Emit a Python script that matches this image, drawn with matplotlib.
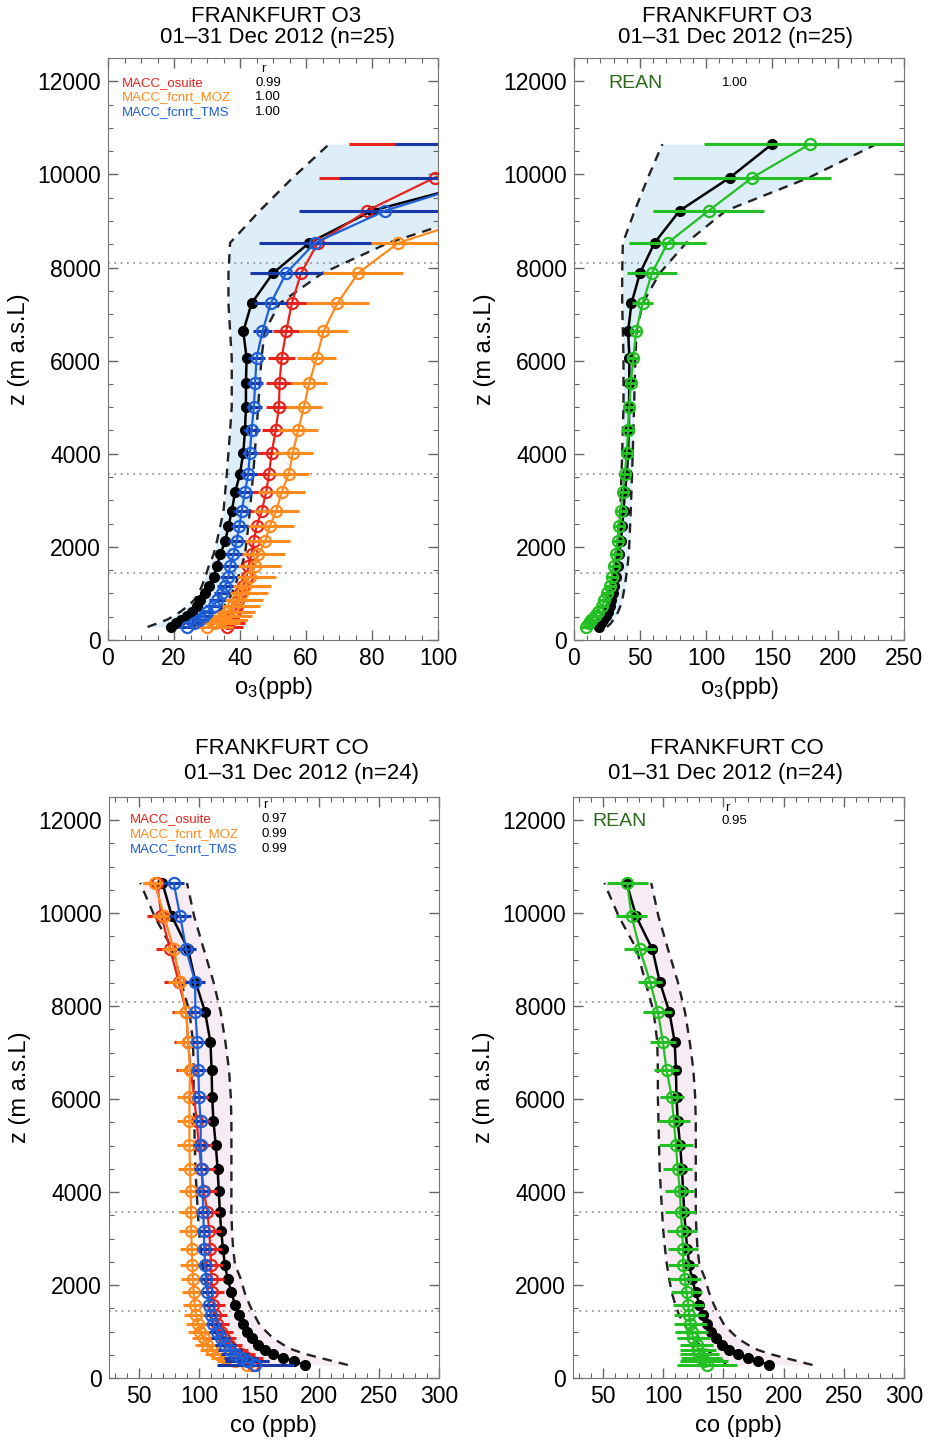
import numpy as np
import matplotlib.pyplot as plt
from matplotlib.ticker import MultipleLocator

plt.rcParams['font.family'] = ['Liberation Sans', 'DejaVu Sans']
plt.rcParams['mathtext.default'] = 'regular'

W, H = 934, 1441

# altitude levels of the profiles (m a.s.l.)
z_levels = [280, 360, 440, 520, 610, 720, 850, 1000, 1170, 1360, 1580, 1840, 2120, 2440, 2770,
            3170, 3570, 4020, 4500, 5010, 5530, 6050, 6630, 7230, 7880, 8530, 9220, 9930, 10650]
layer_bounds = [1440, 3570, 8100]

# ---- O3 (ppb) ----
o3_obs = [19, 20.5, 22, 24, 25.5, 27, 28, 29.5, 30.5, 32, 33, 34, 35.5, 36.5, 37.5,
          38.5, 40, 41, 41.5, 41.8, 41.8, 42, 41, 43.5, 50, 61, 80, 118, 150]
o3_obs_lo = [12, 15, 18, 20, 22, 24, 26, 27.5, 28.5, 29.5, 30.5, 32, 33, 34, 35,
             35.5, 36, 36.5, 37, 37.5, 37.5, 37.5, 37, 36.5, 36.5, 37, 46, 56, 67]
o3_obs_hi = [25, 28, 30, 32, 33.5, 35, 36.5, 37.5, 38.5, 39.5, 40.5, 41.5, 42, 42.5, 43,
             43.5, 44, 44.5, 45, 45.5, 46, 46.5, 47.5, 52, 65, 85, 115, 178, 229]
o3_osuite = [36, 36.5, 37, 38, 38.5, 39, 39.5, 40, 41, 42, 42.5, 43.5, 44.2, 45, 46.6,
             47.9, 48.8, 49.6, 50.8, 51.8, 52, 52.6, 54, 55.7, 58.5, 63.6, 78.5, 99, 125]
o3_osuite_err = [5, 5, 5, 5, 5, 5, 5, 5, 5, 5, 5, 5, 4.5, 4.5, 4.5,
                 4, 4, 4, 4, 4, 4, 4, 4, 5, 7, 10, 20, 35, 52]
o3_moz = [30, 32, 34, 35.5, 36.5, 38, 39, 40.5, 41.5, 43, 44.5, 45.5, 47.6, 49, 51,
          52.6, 54.8, 56, 57.6, 59.4, 61, 63.2, 65.3, 69.5, 75.8, 88, 118, 150, 180]
o3_moz_err = [8, 8, 8, 8, 8, 8, 8, 8, 8, 8, 8, 8, 7.5, 7.5, 7,
              7, 6, 6, 6, 5.5, 5.5, 6, 7.5, 9.5, 13.5, 16, 24, 32, 40]
o3_tms = [24, 26, 27.5, 29, 30, 32, 33, 34.5, 35.5, 36.5, 37, 38, 39, 39.8, 40.5,
          41.5, 42.5, 43, 43.5, 44.2, 44.6, 45, 46.8, 49.3, 54, 62.7, 84, 116, 140]
o3_tms_err = [2.5] * 22 + [3, 5, 11, 17, 26, 46, 53]
o3_rean = [9, 11, 13, 16, 18, 21, 23, 25, 27, 28.5, 30, 31.5, 33, 34, 35.5,
           37, 38.5, 40, 41, 42, 43, 45, 47, 52, 59, 71, 102, 135, 178.6]
o3_rean_err = [4] * 22 + [4.5, 8, 19, 29, 42, 60, 80]

# ---- CO (ppb) ----
co_obs = [188, 179, 170, 162, 155, 149, 144, 140, 136.5, 133, 130, 127, 124, 121.5, 120,
          118.5, 117.4, 116.5, 115.5, 114, 112, 111, 110.5, 109.5, 105, 97, 91, 77.5, 69.5]
co_obs_lo = [152, 150, 146, 140, 136, 130, 125, 121, 117, 113, 110, 107, 105, 103, 101.5,
             100, 99, 98, 97, 96.5, 96, 95.5, 95.5, 95, 92, 85, 78, 63, 51]
co_obs_hi = [224, 212, 200, 188, 178, 170, 162, 156, 150, 146, 142, 138, 135, 130, 128.5,
             127.5, 127, 127, 127, 127, 127, 126.5, 125, 122, 118, 112, 104, 96, 90]
co_osuite = [145, 143, 140, 135, 130, 125, 121, 118, 115, 113, 112, 111, 110.5, 110, 109.5,
             108.5, 107, 104, 102, 100, 98, 96, 93, 91, 89.3, 83, 76, 68.7, 65]
co_osuite_err = [20, 15, 13, 12, 11, 11] + [10] * 11 + [11] * 4 + [12] * 8
co_moz = [140, 130, 122, 116, 111, 107, 104, 101, 99, 97.5, 96.5, 95.5, 95, 94.5, 94,
          93.5, 93.5, 93, 92.5, 92, 92, 92, 92.6, 91, 89.3, 84.4, 79, 71, 63]
co_moz_err = [20, 15, 12, 11] + [10] * 25
co_tms = [147, 140, 135, 130, 126, 122, 118, 115, 112, 110, 108.5, 107, 106, 105, 104.5,
          104, 103.6, 103, 102.2, 101.4, 101.4, 100, 99.5, 98.6, 97, 96.7, 89.3, 84.4, 78.9]
co_tms_err = [32, 18, 14, 12, 10, 9, 8, 7] + [6] * 16 + [7, 8, 8, 9, 9]
co_rean = [136, 134, 132, 130, 129, 127.7, 125, 123.5, 122.5, 121.5, 120.7, 119.4, 118, 116.5, 116.5,
           115.6, 114.6, 113.8, 112, 110.5, 108.8, 107, 102.7, 99.7, 95.5, 89, 80.6, 73.7, 70]
co_rean_err = [25, 20, 17, 16, 15, 14, 14, 14, 14, 13, 13, 13, 13, 12.5, 12.5,
               12.5, 13, 12, 12, 14, 13, 10, 10, 11, 12, 10, 13, 13, 17]

model_names = ['MACC_osuite', 'MACC_fcnrt_MOZ', 'MACC_fcnrt_TMS']
o3_r = ['0.99', '1.00', '1.00']
co_r = ['0.97', '0.99', '0.99']
o3_rean_r = '1.00'
co_rean_r = '0.95'

RED, ORANGE, BLUE, GREEN = '#e8231c', '#ff8b1e', '#1f5fd8', '#22c022'
model_colors = [RED, ORANGE, BLUE]
err_colors = [RED, ORANGE, '#1838a8']

fig = plt.figure(figsize=(W / 100, H / 100), dpi=100)


def add_axes(x0, x1, y0, y1):
    return fig.add_axes([x0 / W, 1 - y1 / H, (x1 - x0) / W, (y1 - y0) / H])


def ftext(x, y, s, **kw):
    fig.text(x / W, 1 - y / H, s, **kw)


def draw_panel(ax, obs, lo, hi, fillcolor, xlim, xmaj, xmin, xlabel):
    z = z_levels
    ax.fill_betweenx(z, lo, hi, color=fillcolor, lw=0, zorder=1)
    ax.plot(lo, z, color='#222', ls=(0, (4, 3)), lw=1.7, zorder=2)
    ax.plot(hi, z, color='#222', ls=(0, (4, 3)), lw=1.7, zorder=2)
    for zz in layer_bounds:
        ax.axhline(zz, color='#999', ls=(0, (1, 2.5)), lw=1.3, zorder=1.5)
    ax.plot(obs, z, color='black', marker='o', ms=7, lw=1.8, zorder=3)

    ax.set_xlim(*xlim)
    ax.set_ylim(0, 12500)
    ax.xaxis.set_major_locator(MultipleLocator(xmaj))
    ax.xaxis.set_minor_locator(MultipleLocator(xmin))
    ax.yaxis.set_major_locator(MultipleLocator(2000))
    ax.yaxis.set_minor_locator(MultipleLocator(500))
    ax.tick_params(which='both', direction='in', top=True, right=True,
                   color='#666', labelsize=16.5)
    ax.tick_params(which='major', length=7, width=1, pad=5)
    ax.tick_params(which='minor', length=3.5, width=0.8)
    for s in ax.spines.values():
        s.set_color('#777')
    ax.set_xlabel(xlabel, fontsize=17, va='center')
    ax.set_ylabel('z (m a.s.L)', fontsize=17, va='center')
    ax.xaxis.set_label_coords(0.5, -0.083)
    ax.yaxis.set_label_coords(-0.27, 0.5)


def draw_model(ax, vals, err, color, ecolor, z=4):
    ax.errorbar(vals, z_levels, xerr=err, color=color, ecolor=ecolor, marker='o',
                ms=8, mfc='none', mec=color, mew=1.6, lw=1.6, elinewidth=2.2,
                capsize=0, zorder=z)


o3_label = 'o$_3$(ppb)'
co_label = 'co (ppb)'

# panel 1: O3 MACC models
ax1 = add_axes(108, 438, 58, 640)
draw_panel(ax1, o3_obs, o3_obs_lo, o3_obs_hi, '#ddeef9', (0, 100), 20, 5, o3_label)
for i, (v, e) in enumerate([(o3_osuite, o3_osuite_err), (o3_moz, o3_moz_err), (o3_tms, o3_tms_err)]):
    draw_model(ax1, v, e, model_colors[i], err_colors[i], 4 + i)

# panel 2: O3 reanalysis
ax2 = add_axes(574, 904, 58, 640)
draw_panel(ax2, o3_obs, o3_obs_lo, o3_obs_hi, '#ddeef9', (0, 250), 50, 10, o3_label)
draw_model(ax2, o3_rean, o3_rean_err, GREEN, GREEN)

# panel 3: CO MACC models
ax3 = add_axes(109, 439, 797, 1378)
draw_panel(ax3, co_obs, co_obs_lo, co_obs_hi, '#f7ecf4', (25, 300), 50, 10, co_label)
for i, (v, e) in enumerate([(co_osuite, co_osuite_err), (co_moz, co_moz_err), (co_tms, co_tms_err)]):
    draw_model(ax3, v, e, model_colors[i], err_colors[i], 4 + i)

# panel 4: CO reanalysis
ax4 = add_axes(573, 904, 797, 1378)
draw_panel(ax4, co_obs, co_obs_lo, co_obs_hi, '#f7ecf4', (25, 300), 50, 10, co_label)
draw_model(ax4, co_rean, co_rean_err, GREEN, GREEN)

# titles
ftext(276, 16, 'FRANKFURT O3', ha='center', va='center', fontsize=16)
ftext(278, 38, '01\u201331 Dec 2012 (n=25)', ha='center', va='center', fontsize=16)
ftext(727, 16, 'FRANKFURT O3', ha='center', va='center', fontsize=16)
ftext(736, 38, '01\u201331 Dec 2012 (n=25)', ha='center', va='center', fontsize=16)
ftext(282, 748, 'FRANKFURT CO', ha='center', va='center', fontsize=16)
ftext(302, 773, '01\u201331 Dec 2012 (n=24)', ha='center', va='center', fontsize=16)
ftext(737, 748, 'FRANKFURT CO', ha='center', va='center', fontsize=16)
ftext(726, 773, '01\u201331 Dec 2012 (n=24)', ha='center', va='center', fontsize=16)

# correlation legends
ftext(263, 69, 'r', ha='center', va='center', fontsize=9.5)
for i, (name, r) in enumerate(zip(model_names, o3_r)):
    ftext(122, 83 + i * 14.5, name, color=model_colors[i], va='center', fontsize=9.5)
    ftext(255, 83 + i * 14.5, r, va='center', fontsize=9.5)
ftext(608, 84, 'REAN', color='#2a6a1a', va='center', fontsize=14)
ftext(722, 83, o3_rean_r, va='center', fontsize=9.5)

ftext(265, 805, 'r', ha='center', va='center', fontsize=9.5)
for i, (name, r) in enumerate(zip(model_names, co_r)):
    ftext(130, 819 + i * 15, name, color=model_colors[i], va='center', fontsize=9.5)
    ftext(261, 819 + i * 15, r, va='center', fontsize=9.5)
ftext(592, 821, 'REAN', color='#2a6a1a', va='center', fontsize=14)
ftext(727, 808, 'r', ha='center', va='center', fontsize=9.5)
ftext(722, 821, co_rean_r, va='center', fontsize=9.5)

fig.savefig('out.png', dpi=100)
